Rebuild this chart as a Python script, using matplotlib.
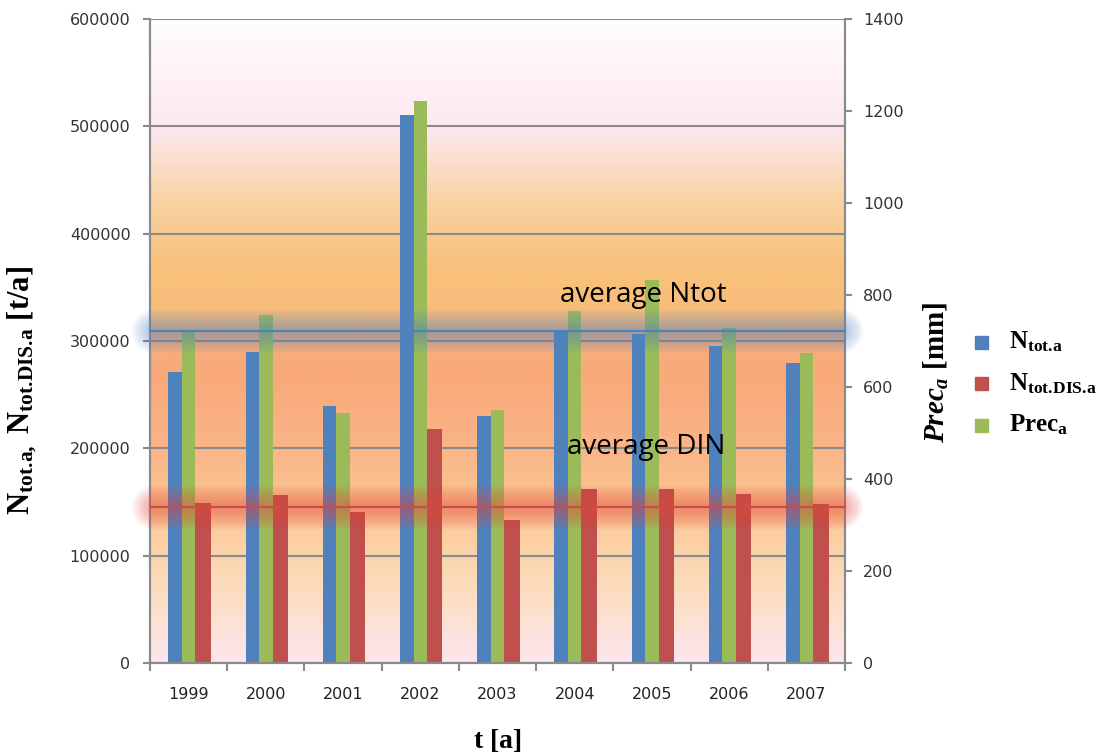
import numpy as np
import matplotlib.pyplot as plt
from matplotlib.colors import LinearSegmentedColormap
from matplotlib.patches import Rectangle

# data
years = ['1999', '2000', '2001', '2002', '2003', '2004', '2005', '2006', '2007']
n_tot = [271000, 289500, 239700, 511000, 230400, 308000, 306200, 295300, 279500]
n_dis = [148800, 156200, 141000, 217700, 132900, 161800, 161800, 157700, 148100]
prec = [725, 756, 543, 1222, 549, 766, 833, 728, 673]
avg_ntot = 309000
avg_din = 145000

plt.rcParams['mathtext.fontset'] = 'custom'
plt.rcParams['mathtext.rm'] = 'Liberation Serif:bold'
plt.rcParams['mathtext.bf'] = 'Liberation Serif:bold'
plt.rcParams['mathtext.it'] = 'Liberation Serif:bold:italic'

W, H = 1106, 756
fig = plt.figure(figsize=(W / 100, H / 100), dpi=100)
ax = fig.add_axes([150 / W, 1 - 663 / H, 695 / W, 644 / H])
ax2 = ax.twinx()

x = np.arange(len(years))
ax.set_xlim(-0.5, len(years) - 0.5)
ax.set_ylim(0, 600000)
ax2.set_ylim(0, 1400)

# background gradient (bottom -> top)
stops = [(0.0, '#fde6ee'), (0.12, '#fcdcbc'), (0.25, '#fbc590'), (0.33, '#fab588'),
         (0.45, '#f9a97a'), (0.505, '#f9b07c'), (0.52, '#f8bb7a'), (0.62, '#f8c27c'),
         (0.72, '#f9d2a4'), (0.83, '#fde8f0'), (1.0, '#fffdfe')]
cmap = LinearSegmentedColormap.from_list('bg', stops)
grad = np.linspace(0, 1, 256).reshape(-1, 1)
ax.imshow(grad, cmap=cmap, origin='lower', aspect='auto',
          extent=(-0.5, len(years) - 0.5, 0, 600000), zorder=0)

ax.set_axisbelow(True)
ax.yaxis.grid(True, color='#8a8a8a', lw=1.5)
ax.set_yticks(np.arange(0, 600001, 100000))
ax.set_yticklabels([str(v) for v in range(0, 600001, 100000)])
ax2.set_yticks(np.arange(0, 1401, 200))

w = 0.175
ax.bar(x - w, n_tot, width=w, color='#4f81bd', zorder=2)
ax.bar(x + w / 2 + 0.1, n_dis, width=0.2, color='#c0504d', zorder=2)
ax2.bar(x, prec, width=w, color='#9bbb59', zorder=2)

# glowing average lines on top of the bars
for avg, glow, core in [(avg_ntot, '#5a86c8', '#4f81bd'), (avg_din, '#f04a40', '#c0504d')]:
    for lw in range(4, 34, 2):
        ax2.plot([-0.45, len(years) - 0.55], [avg, avg], transform=ax.transData,
                 color=glow, lw=lw, alpha=0.04, solid_capstyle='round',
                 clip_on=False, zorder=5)
    ax2.plot([-0.5, len(years) - 0.5], [avg, avg], transform=ax.transData,
             color=core, lw=1.5, zorder=6)

ax2.text(5.89, 342900, 'average Ntot', transform=ax.transData,
         fontsize=20, family='Open Sans', ha='center', va='center', zorder=7)
ax2.text(5.92, 201200, 'average DIN', transform=ax.transData,
         fontsize=20, family='Open Sans', ha='center', va='center', zorder=7)

ax.set_xticks(x)
ax.set_xticklabels(years)
ax.set_xticks(np.arange(-0.5, len(years)), minor=True)
ax.tick_params(axis='x', which='major', length=0, pad=17, labelsize=11.5, labelcolor='#222222')
ax.tick_params(axis='x', which='minor', length=6, color='#8a8a8a', width=1.5)
ax.tick_params(axis='y', length=5, color='#8a8a8a', width=1.5, labelsize=11.5,
               labelcolor='#333333', pad=9)
ax2.tick_params(axis='y', length=5, color='#8a8a8a', width=1.5, labelsize=11.5,
                labelcolor='#333333', pad=8)
for a in (ax, ax2):
    for s in a.spines.values():
        s.set_color('#8a8a8a')
        s.set_linewidth(1.5)
    a.spines['top'].set_visible(False)

fig.text(22 / W, 1 - 391 / H,
         r'$\mathrm{N_{tot.\!a,}\ N_{tot.\!DIS.\!a}\ [t/a]}$',
         rotation=90, ha='center', va='center', fontsize=22)
fig.text(936 / W, 1 - 372 / H, r'$\it{Prec_{a}}\ \mathrm{[mm]}$',
         rotation=90, ha='center', va='center', fontsize=21)
fig.text(497 / W, 1 - 740 / H, r'$\mathrm{t\ [a]}$', ha='center', va='center', fontsize=20)

# legend drawn by hand
leg_colors = ['#4f81bd', '#c0504d', '#9bbb59']
leg_labels = [r'$\mathrm{N_{tot.\!a}}$', r'$\mathrm{N_{tot.\!DIS.\!a}}$', r'$\mathrm{Prec_{a}}$']
for i, (c, lab) in enumerate(zip(leg_colors, leg_labels)):
    yc = 342 + 41.5 * i
    fig.patches.append(Rectangle((975 / W, 1 - (yc + 6.5) / H), 13 / W, 13 / H,
                                 transform=fig.transFigure, color=c, figure=fig))
    fig.text(1009 / W, 1 - yc / H, lab, ha='left', va='center', fontsize=18)

fig.savefig('out.png', dpi=100)
